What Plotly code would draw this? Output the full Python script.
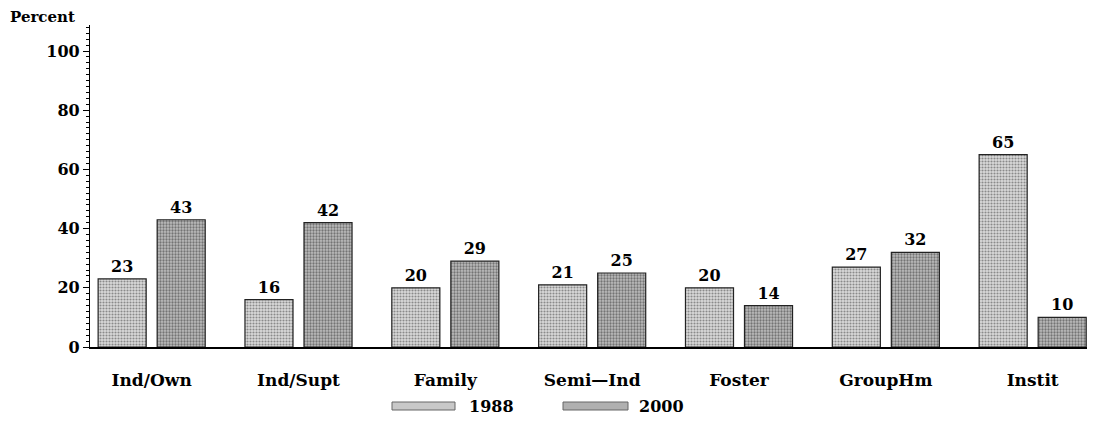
import plotly.graph_objects as go

categories = ["Ind/Own", "Ind/Supt", "Family", "Semi\u2014Ind", "Foster", "GroupHm", "Instit"]
pct_1988 = [23, 16, 20, 21, 20, 27, 65]
pct_2000 = [43, 42, 29, 25, 14, 32, 10]
series_names = ["1988", "2000"]

W, H = 1095, 424
OFF = 8  # the page body margin pushes the figure 8px right and down
# plot area edges in page pixels
PX_L, PX_R, PX_T, PX_B = 90, 1087, 25, 347
L, T = PX_L - OFF, PX_T - OFF
R, B = W - (PX_R - OFF), H - (PX_B - OFF)
FONT = "DejaVu Serif"


def px_x(p):  # page pixel -> paper x
    return (p - PX_L) / (PX_R - PX_L)


def px_y(p):  # page pixel -> paper y
    return (PX_B - p) / (PX_B - PX_T)


fig = go.Figure()
styles = [
    dict(bg="#dadada", fg="#8a8a8a", solid=0.4, swatch="#c8c8c8"),
    dict(bg="#bdbdbd", fg="#747474", solid=0.45, swatch="#b0b0b0"),
]
for name, vals, st in zip(series_names, [pct_1988, pct_2000], styles):
    fig.add_trace(go.Bar(
        x=categories, y=vals, name=name,
        text=vals, textposition="outside", cliponaxis=False,
        textfont=dict(family=FONT, size=16, color="black", weight="bold"),
        constraintext="none",
        marker=dict(
            color=st["bg"],
            line=dict(color="#222", width=1.2),
            pattern=dict(shape=".", size=3, solidity=st["solid"],
                         fgcolor=st["fg"], bgcolor=st["bg"], fillmode="replace"),
        ),
        showlegend=False,
    ))

fig.update_layout(
    width=W, height=H,
    margin=dict(l=L, r=R, t=T, b=B, autoexpand=False),
    plot_bgcolor="white", paper_bgcolor="white",
    barmode="group", bargap=0.196, bargroupgap=0.186,
    font=dict(family=FONT, size=16, color="black"),
    xaxis=dict(
        range=[-0.42, 6.37], showline=True, linecolor="black", linewidth=1.5,
        ticks="", showgrid=False, ticklabelstandoff=17, automargin=False,
        tickfont=dict(family=FONT, size=17, weight="bold"),
    ),
    yaxis=dict(
        range=[0, 108.8], showline=True, linecolor="black", linewidth=1.2,
        tickvals=[0, 20, 40, 60, 80, 100], ticks="outside", ticklen=6,
        tickcolor="black", showgrid=False, zeroline=False, automargin=False,
        minor=dict(dtick=2, ticks="outside", ticklen=3, tickcolor="black"),
        tickfont=dict(family=FONT, size=16, weight="bold"),
    ),
)

fig.add_annotation(
    text="Percent", xref="paper", yref="paper", x=px_x(8), y=px_y(17),
    xanchor="left", yanchor="middle", showarrow=False,
    font=dict(family=FONT, size=15, weight="bold"),
)

# legend drawn as swatches with labels below the axis
legend_items = [(392, 455, 467), (563, 628, 637)]
for (x0, x1, tx), name, st in zip(legend_items, series_names, styles):
    fig.add_shape(type="rect", xref="paper", yref="paper",
                  x0=px_x(x0), x1=px_x(x1), y0=px_y(410), y1=px_y(402),
                  fillcolor=st["swatch"], line=dict(color="#666", width=1))
    fig.add_annotation(text=name, xref="paper", yref="paper",
                       x=px_x(tx), y=px_y(406), xanchor="left", yanchor="middle",
                       showarrow=False, font=dict(family=FONT, size=16, weight="bold"))

fig.write_html("out.html")
